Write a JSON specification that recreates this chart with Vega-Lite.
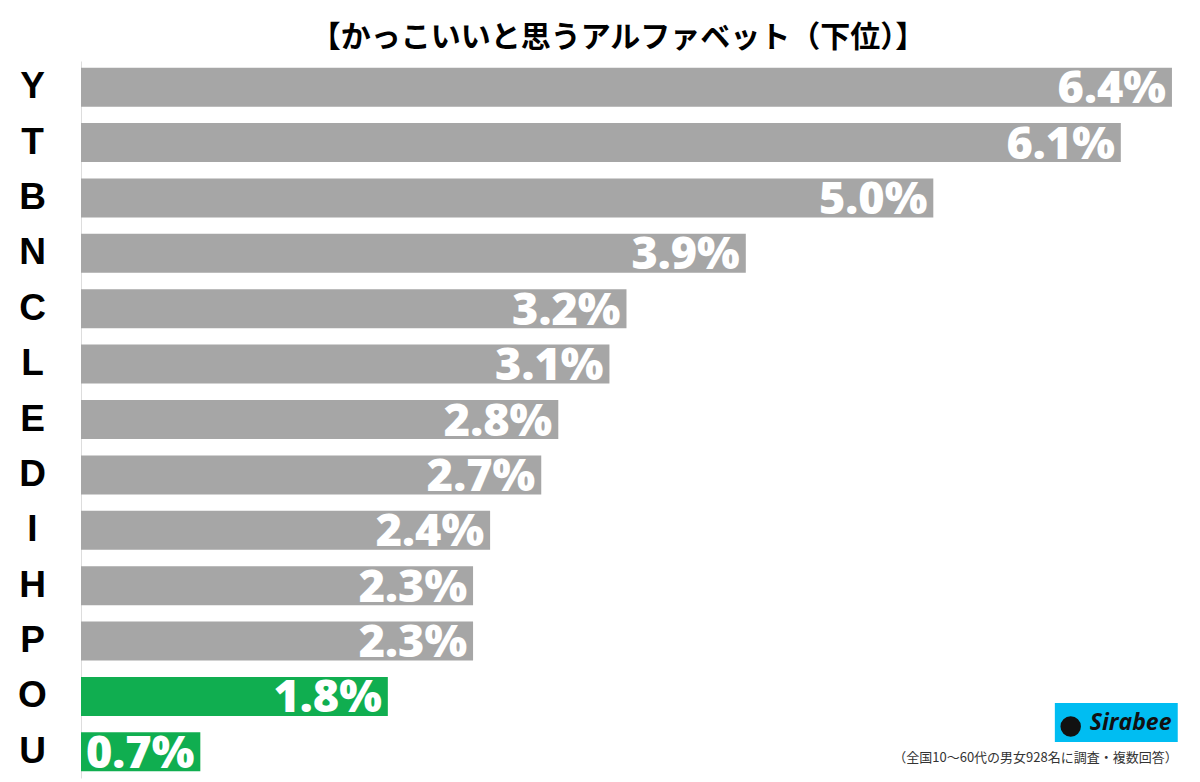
{
  "$schema": "https://vega.github.io/schema/vega-lite/v6.json",
  "autosize": "none",
  "width": 1108,
  "height": 717,
  "padding": {"left": 81, "top": 61, "right": 11, "bottom": 4},
  "background": "white",
  "config": {"view": {"stroke": null}},
  "title": {
    "text": "【かっこいいと思うアルファベット（下位）】",
    "font": "Noto Sans CJK JP",
    "fontSize": 30,
    "fontWeight": "bold",
    "color": "#000000",
    "anchor": "middle",
    "dx": -17,
    "offset": 8
  },
  "datasets": {
    "bars": [
      {"letter": "Y", "pct": 6.4},
      {"letter": "T", "pct": 6.1},
      {"letter": "B", "pct": 5.0},
      {"letter": "N", "pct": 3.9},
      {"letter": "C", "pct": 3.2},
      {"letter": "L", "pct": 3.1},
      {"letter": "E", "pct": 2.8},
      {"letter": "D", "pct": 2.7},
      {"letter": "I", "pct": 2.4},
      {"letter": "H", "pct": 2.3},
      {"letter": "P", "pct": 2.3},
      {"letter": "O", "pct": 1.8},
      {"letter": "U", "pct": 0.7}
    ],
    "logo": [
      {"letter": "O", "start": 5.713, "end": 6.434, "textx": 5.918, "iconx": 5.806, "brand": "Sirabee"}
    ],
    "note": [
      {"letter": "U", "x": 6.434, "text": "（全国10〜60代の男女928名に調査・複数回答）"}
    ]
  },
  "layer": [
    {
      "data": {"name": "bars"},
      "mark": {"type": "bar"},
      "encoding": {
        "y": {
          "field": "letter", "type": "nominal", "sort": null,
          "scale": {"paddingInner": 0.296, "paddingOuter": 0.12},
          "axis": {
            "title": null, "ticks": false, "grid": false,
            "domain": true, "domainColor": "#dddddd", "domainWidth": 1,
            "labelFont": "Liberation Sans", "labelFontWeight": "bold",
            "labelFontSize": 37, "labelColor": "#000000",
            "labelAlign": "center", "labelPadding": 49, "labelBaseline": "middle"
          }
        },
        "x": {
          "field": "pct", "type": "quantitative",
          "scale": {"domain": [0, 6.5], "nice": false, "zero": true},
          "axis": null
        },
        "color": {
          "condition": {"test": "datum.letter === 'O' || datum.letter === 'U'", "value": "#10AE50"},
          "value": "#A6A6A6"
        }
      }
    },
    {
      "data": {"name": "bars"},
      "transform": [{"calculate": "format(datum.pct, '.1f') + '%'", "as": "label"}],
      "mark": {
        "type": "text", "align": "right", "baseline": "middle", "dx": -6, "dy": 2,
        "font": "Open Sans", "fontWeight": 800, "fontSize": 45, "color": "#ffffff"
      },
      "encoding": {
        "y": {"field": "letter", "type": "nominal", "sort": null},
        "x": {"field": "pct", "type": "quantitative"},
        "text": {"field": "label"}
      }
    },
    {
      "data": {"name": "logo"},
      "mark": {"type": "bar", "color": "#00BDF2", "yOffset": 26, "y2Offset": 26},
      "encoding": {
        "y": {"field": "letter", "type": "nominal", "sort": null},
        "x": {"field": "start", "type": "quantitative"},
        "x2": {"field": "end"}
      }
    },
    {
      "data": {"name": "logo"},
      "mark": {
        "type": "text", "align": "left", "baseline": "middle", "dy": 27,
        "font": "Open Sans", "fontWeight": "bold", "fontStyle": "italic", "fontSize": 23, "color": "#111111"
      },
      "encoding": {
        "y": {"field": "letter", "type": "nominal", "sort": null},
        "x": {"field": "textx", "type": "quantitative"},
        "text": {"field": "brand"}
      }
    },
    {
      "data": {"name": "logo"},
      "mark": {"type": "point", "shape": "circle", "filled": true, "color": "#111111", "size": 420, "opacity": 1, "yOffset": 30},
      "encoding": {
        "y": {"field": "letter", "type": "nominal", "sort": null},
        "x": {"field": "iconx", "type": "quantitative"}
      }
    },
    {
      "data": {"name": "note"},
      "mark": {
        "type": "text", "align": "right", "baseline": "middle", "dy": 6,
        "font": "Noto Sans CJK JP", "fontSize": 13, "color": "#333333"
      },
      "encoding": {
        "y": {"field": "letter", "type": "nominal", "sort": null},
        "x": {"field": "x", "type": "quantitative"},
        "text": {"field": "text"}
      }
    }
  ]
}
